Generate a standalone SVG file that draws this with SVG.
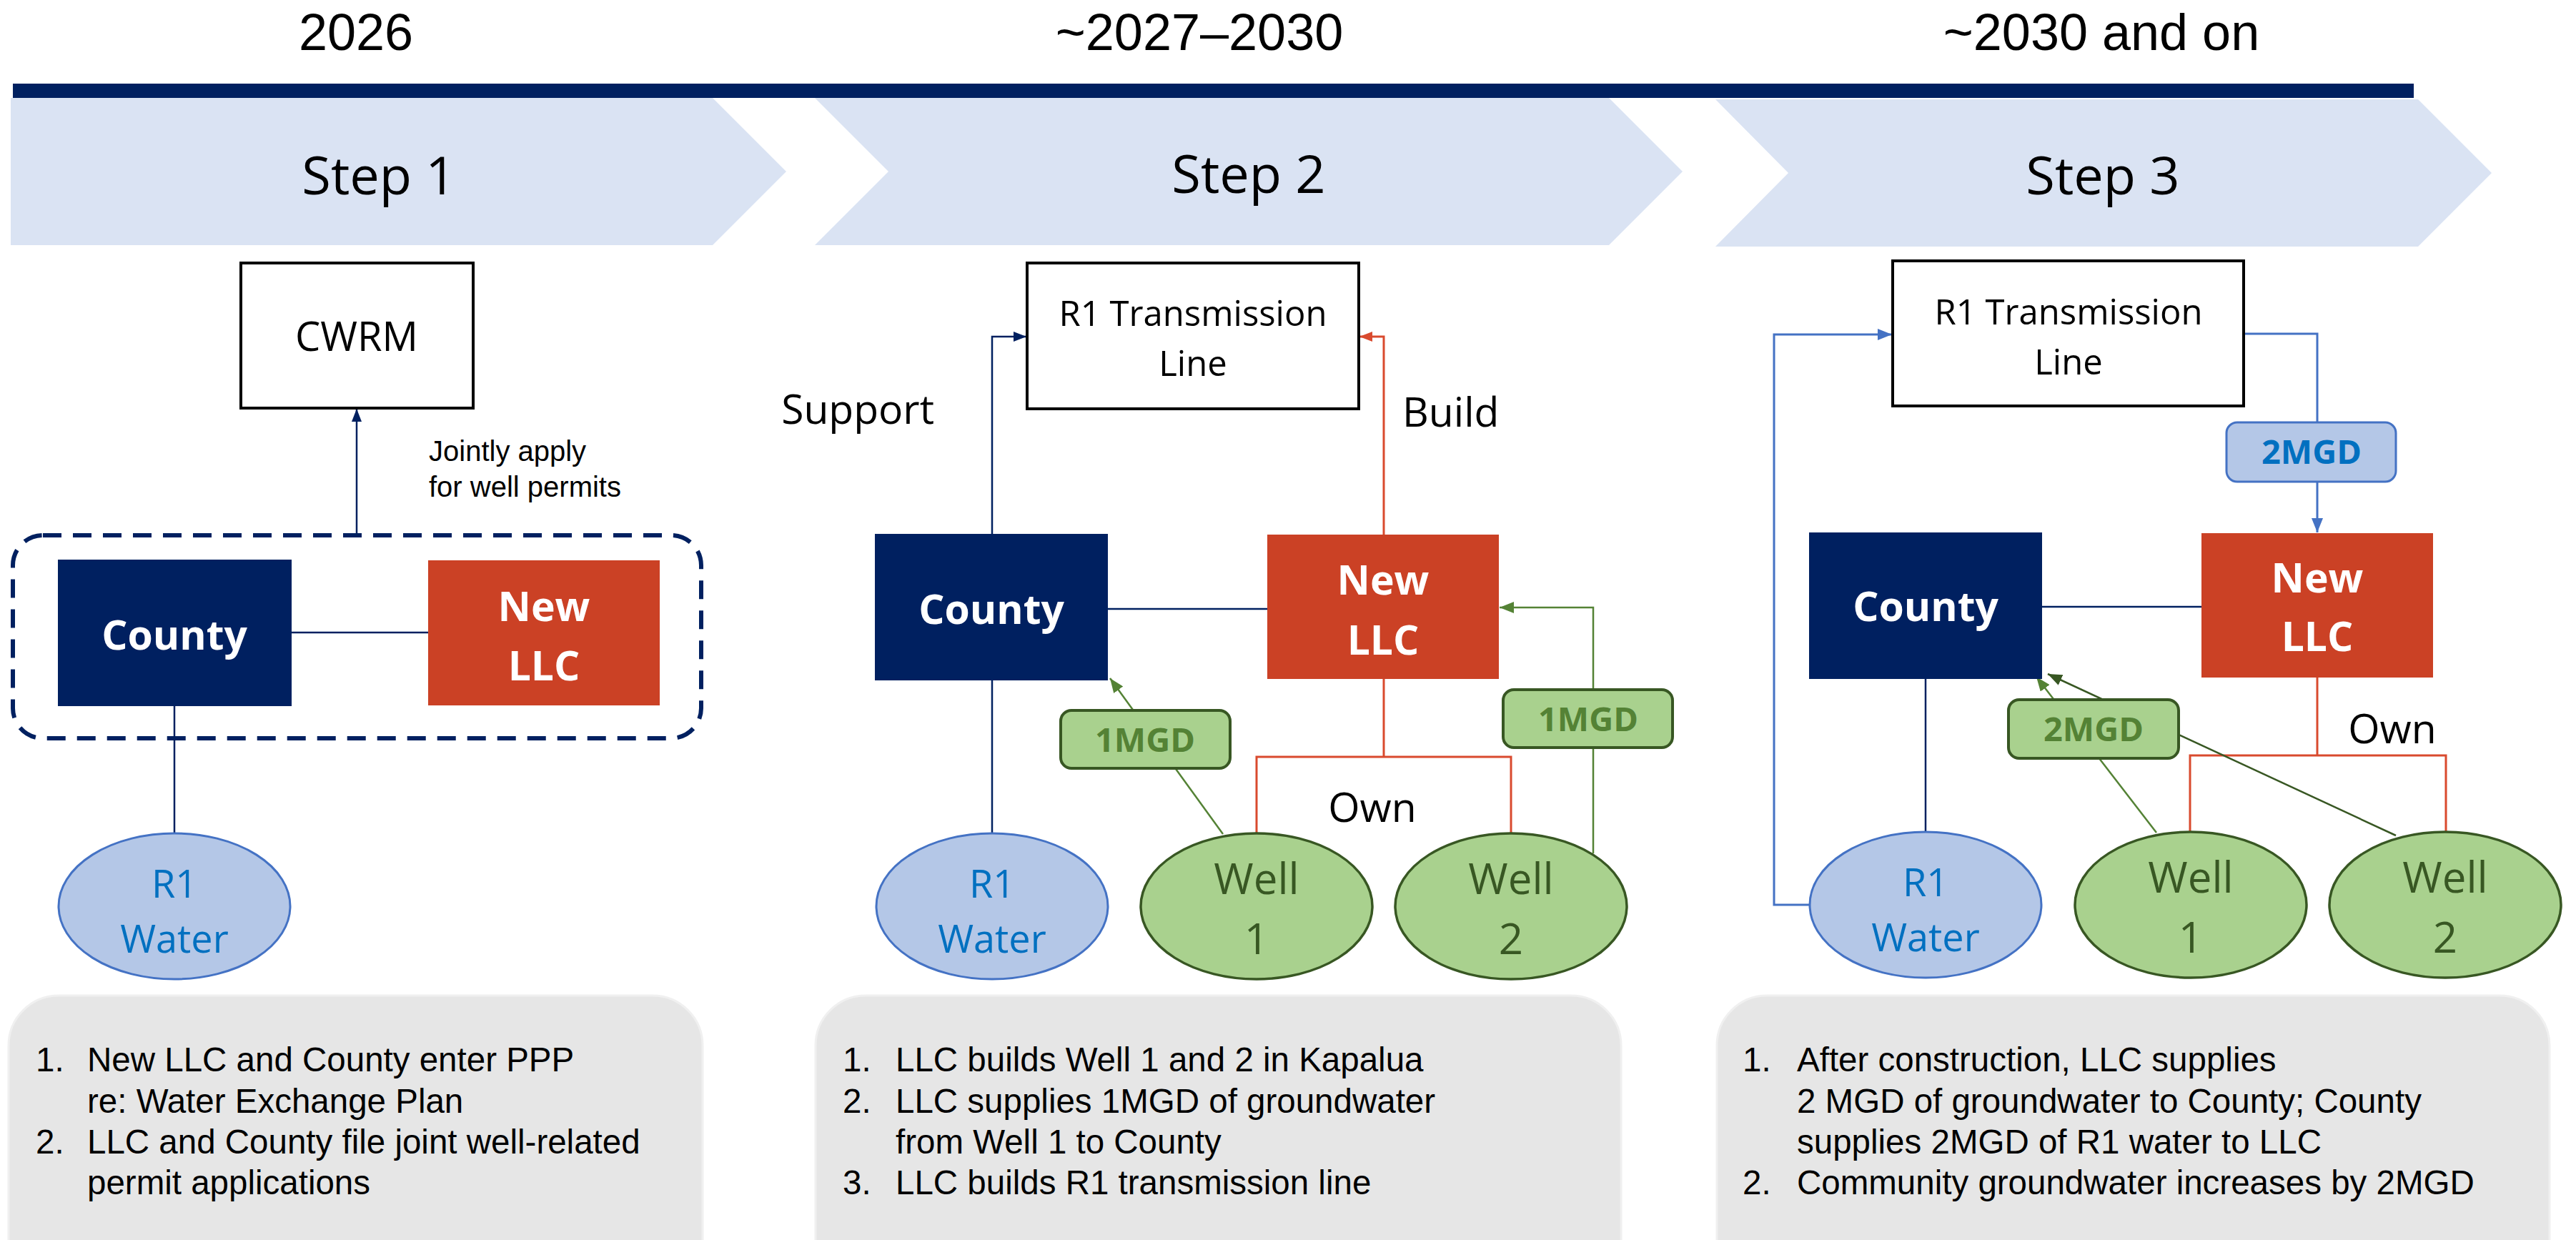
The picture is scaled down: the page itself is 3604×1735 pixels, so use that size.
<svg xmlns="http://www.w3.org/2000/svg" width="3604" height="1735" viewBox="0 0 3604 1735">
<style>
.hdr{font-family:"Liberation Sans",Arial,sans-serif;font-size:72px;fill:#000;text-anchor:middle}
.step{font-family:"Open Sans","Liberation Sans",sans-serif;font-size:74px;fill:#000;text-anchor:middle}
.chev{fill:#DAE3F3}
.box{fill:#fff;stroke:#000;stroke-width:4}
.boxt{font-family:"Open Sans","Liberation Sans",sans-serif;font-size:49px;fill:#000;text-anchor:middle}
.county{fill:#002060}
.llc{fill:#CB4125}
.wt{font-family:"Open Sans","Liberation Sans",sans-serif;font-weight:bold;font-size:57px;fill:#fff;text-anchor:middle}
.r1{fill:#B4C7E7;stroke:#4472C4;stroke-width:3}
.r1t{font-family:"Open Sans","Liberation Sans",sans-serif;font-size:54px;fill:#0070C0;text-anchor:middle}
.well{fill:#A9D18E;stroke:#385723;stroke-width:3.5}
.wellt{font-family:"Open Sans","Liberation Sans",sans-serif;font-size:60px;fill:#385723;text-anchor:middle}
.mgd{fill:#A9D18E;stroke:#385723;stroke-width:4}
.mgdb{fill:#B4C7E7;stroke:#4472C4;stroke-width:3}
.mgdt{font-family:"Open Sans","Liberation Sans",sans-serif;font-weight:bold;font-size:47px;fill:#548235;text-anchor:middle}
.mgdtb{font-family:"Open Sans","Liberation Sans",sans-serif;font-weight:bold;font-size:47px;fill:#0070C0;text-anchor:middle}
.lbl{font-family:"Open Sans","Liberation Sans",sans-serif;font-size:57px;fill:#000}
.small{font-family:"Liberation Sans",Arial,sans-serif;font-size:40px;fill:#000}
.note{fill:#E6E6E6;stroke:#F0F0F0;stroke-width:3}
.nt{font-family:"Liberation Sans",Arial,sans-serif;font-size:47.5px;fill:#000}
.cn{fill:none;stroke:#002060;stroke-width:2.5}
.cr{fill:none;stroke:#D94A2E;stroke-width:3}
.cg{fill:none;stroke:#548235;stroke-width:2.5}
.cdg{fill:none;stroke:#385723;stroke-width:2.5}
.cb{fill:none;stroke:#4472C4;stroke-width:3}
</style>
<defs>
<marker id="aN" markerUnits="userSpaceOnUse" markerWidth="18" markerHeight="14" viewBox="0 0 18 14" refX="18" refY="7" orient="auto"><path d="M0,0 L18,7 L0,14 z" fill="#002060"/></marker>
<marker id="aR" markerUnits="userSpaceOnUse" markerWidth="18" markerHeight="14" viewBox="0 0 18 14" refX="18" refY="7" orient="auto"><path d="M0,0 L18,7 L0,14 z" fill="#D94A2E"/></marker>
<marker id="aG" markerUnits="userSpaceOnUse" markerWidth="20" markerHeight="16" viewBox="0 0 20 16" refX="20" refY="8" orient="auto"><path d="M0,0 L20,8 L0,16 z" fill="#548235"/></marker>
<marker id="aDG" markerUnits="userSpaceOnUse" markerWidth="20" markerHeight="16" viewBox="0 0 20 16" refX="20" refY="8" orient="auto"><path d="M0,0 L20,8 L0,16 z" fill="#385723"/></marker>
<marker id="aB" markerUnits="userSpaceOnUse" markerWidth="20" markerHeight="16" viewBox="0 0 20 16" refX="20" refY="8" orient="auto"><path d="M0,0 L20,8 L0,16 z" fill="#4472C4"/></marker>
</defs>
<rect width="3604" height="1735" fill="#fff"/>

<!-- Timeline header -->
<g id="timeline">
<text class="hdr" x="498" y="70">2026</text>
<text class="hdr" x="1678" y="70">~2027–2030</text>
<text class="hdr" x="2940" y="70">~2030 and on</text>
<rect x="18" y="117" width="3359" height="20" fill="#002060"/>
</g>
<g id="step1-chevron">
<polygon class="chev" points="15,137 997,137 1100,240 997,343 15,343"/>
<text class="step" x="530" y="272">Step 1</text>
</g>
<g id="step2-chevron">
<polygon class="chev" points="1140,137 2251,137 2354,240 2251,343 1140,343 1243,240"/>
<text class="step" x="1747" y="270">Step 2</text>
</g>
<g id="step3-chevron">
<polygon class="chev" points="2400,139 3383,139 3486,242 3383,345 2400,345 2502,242"/>
<text class="step" x="2942" y="272">Step 3</text>
</g>

<!-- Connectors -->
<g id="connectors">
<!-- step 1 -->
<line class="cn" x1="499" y1="749" x2="499" y2="572" marker-end="url(#aN)"/>
<line class="cn" x1="408" y1="885" x2="599" y2="885"/>
<line class="cn" x1="244" y1="988" x2="244" y2="1166"/>
<!-- step 2 -->
<path class="cn" d="M1388,747 V471 H1436" marker-end="url(#aN)"/>
<path class="cr" d="M1936,748 V471 H1902" marker-end="url(#aR)"/>
<line class="cn" x1="1550" y1="852" x2="1773" y2="852"/>
<line class="cn" x1="1388" y1="952" x2="1388" y2="1166"/>
<path class="cr" d="M1936,950 V1059"/>
<path class="cr" d="M1758,1166 V1059 H2114 V1166"/>
<line class="cg" x1="1711" y1="1167" x2="1553" y2="949" marker-end="url(#aG)"/>
<path class="cg" d="M2229,1194 V850 H2098" marker-end="url(#aG)"/>
<!-- step 3 -->
<path class="cb" d="M2532,1266 H2482 V468 H2647" marker-end="url(#aB)"/>
<path class="cb" d="M3139,467 H3242 V745" marker-end="url(#aB)"/>
<line class="cn" x1="2857" y1="849" x2="3080" y2="849"/>
<line class="cn" x1="2694" y1="950" x2="2694" y2="1164"/>
<path class="cr" d="M3242,948 V1057"/>
<path class="cr" d="M3064,1164 V1057 H3422 V1164"/>
<line class="cg" x1="3017" y1="1165" x2="2849" y2="947" marker-end="url(#aG)"/>
<line class="cdg" x1="3352" y1="1169" x2="2865" y2="943" marker-end="url(#aDG)"/>
</g>

<!-- Step 1 nodes -->
<g id="s1-group">
<rect x="18" y="749" width="963" height="284" rx="42" fill="none" stroke="#002060" stroke-width="6" stroke-dasharray="26 16"/>
</g>
<g id="s1-cwrm">
<rect class="box" x="337" y="368" width="325" height="203"/>
<text class="boxt" x="499" y="491" style="font-size:56px">CWRM</text>
</g>
<g id="s1-label">
<text class="small" x="600" y="645">Jointly apply</text>
<text class="small" x="600" y="695">for well permits</text>
</g>
<g id="s1-county">
<rect class="county" x="81" y="783" width="327" height="205"/>
<text class="wt" x="244" y="909">County</text>
</g>
<g id="s1-llc">
<rect class="llc" x="599" y="784" width="324" height="203"/>
<text class="wt" x="761" y="869">New</text>
<text class="wt" x="761" y="952">LLC</text>
</g>
<g id="s1-r1">
<ellipse class="r1" cx="244" cy="1268" rx="162" ry="102"/>
<text class="r1t" x="244" y="1256">R1</text>
<text class="r1t" x="244" y="1333">Water</text>
</g>

<!-- Step 2 nodes -->
<g id="s2-line">
<rect class="box" x="1437" y="368" width="464" height="204"/>
<text class="boxt" x="1669" y="456">R1 Transmission</text>
<text class="boxt" x="1669" y="526">Line</text>
</g>
<g id="s2-labels">
<text class="lbl" x="1307" y="593" text-anchor="end">Support</text>
<text class="lbl" x="1962" y="597">Build</text>
<text class="lbl" x="1920" y="1150" text-anchor="middle">Own</text>
</g>
<g id="s2-county">
<rect class="county" x="1224" y="747" width="326" height="205"/>
<text class="wt" x="1387" y="873">County</text>
</g>
<g id="s2-llc">
<rect class="llc" x="1773" y="748" width="324" height="202"/>
<text class="wt" x="1935" y="832">New</text>
<text class="wt" x="1935" y="916">LLC</text>
</g>
<g id="s2-r1">
<ellipse class="r1" cx="1388" cy="1268" rx="162" ry="102"/>
<text class="r1t" x="1388" y="1256">R1</text>
<text class="r1t" x="1388" y="1333">Water</text>
</g>
<g id="s2-well1">
<ellipse class="well" cx="1758" cy="1268" rx="162" ry="102"/>
<text class="wellt" x="1758" y="1251">Well</text>
<text class="wellt" x="1758" y="1335">1</text>
</g>
<g id="s2-well2">
<ellipse class="well" cx="2114" cy="1268" rx="162" ry="102"/>
<text class="wellt" x="2114" y="1251">Well</text>
<text class="wellt" x="2114" y="1335">2</text>
</g>
<g id="s2-mgd1">
<rect class="mgd" x="1484" y="994" width="237" height="81" rx="15"/>
<text class="mgdt" x="1602" y="1052">1MGD</text>
</g>
<g id="s2-mgd2">
<rect class="mgd" x="2103" y="965" width="237" height="81" rx="15"/>
<text class="mgdt" x="2222" y="1023">1MGD</text>
</g>

<!-- Step 3 nodes -->
<g id="s3-line">
<rect class="box" x="2648" y="365" width="491" height="203"/>
<text class="boxt" x="2894" y="454">R1 Transmission</text>
<text class="boxt" x="2894" y="524">Line</text>
</g>
<g id="s3-mgdb">
<rect class="mgdb" x="3115" y="591" width="237" height="83" rx="15"/>
<text class="mgdtb" x="3234" y="649">2MGD</text>
</g>
<g id="s3-labels">
<text class="lbl" x="3347" y="1040" text-anchor="middle">Own</text>
</g>
<g id="s3-county">
<rect class="county" x="2531" y="745" width="326" height="205"/>
<text class="wt" x="2694" y="869">County</text>
</g>
<g id="s3-llc">
<rect class="llc" x="3080" y="746" width="324" height="202"/>
<text class="wt" x="3242" y="829">New</text>
<text class="wt" x="3242" y="911">LLC</text>
</g>
<g id="s3-r1">
<ellipse class="r1" cx="2694" cy="1266" rx="162" ry="102"/>
<text class="r1t" x="2694" y="1254">R1</text>
<text class="r1t" x="2694" y="1331">Water</text>
</g>
<g id="s3-well1">
<ellipse class="well" cx="3065" cy="1266" rx="162" ry="102"/>
<text class="wellt" x="3065" y="1249">Well</text>
<text class="wellt" x="3065" y="1333">1</text>
</g>
<g id="s3-well2">
<ellipse class="well" cx="3421" cy="1266" rx="162" ry="102"/>
<text class="wellt" x="3421" y="1249">Well</text>
<text class="wellt" x="3421" y="1333">2</text>
</g>
<g id="s3-mgd">
<rect class="mgd" x="2810" y="979" width="238" height="82" rx="15"/>
<text class="mgdt" x="2929" y="1037">2MGD</text>
</g>

<!-- Notes -->
<g id="note1">
<rect class="note" x="12" y="1393" width="971" height="420" rx="70"/>
<text class="nt" x="50" y="1499">1.</text>
<text class="nt" x="122" y="1499">New LLC and County enter PPP</text>
<text class="nt" x="122" y="1557">re: Water Exchange Plan</text>
<text class="nt" x="50" y="1614">2.</text>
<text class="nt" x="122" y="1614">LLC and County file joint well-related</text>
<text class="nt" x="122" y="1671">permit applications</text>
</g>
<g id="note2">
<rect class="note" x="1141" y="1393" width="1127" height="420" rx="70"/>
<text class="nt" x="1179" y="1499">1.</text>
<text class="nt" x="1253" y="1499">LLC builds Well 1 and 2 in Kapalua</text>
<text class="nt" x="1179" y="1557">2.</text>
<text class="nt" x="1253" y="1557">LLC supplies 1MGD of groundwater</text>
<text class="nt" x="1253" y="1614">from Well 1 to County</text>
<text class="nt" x="1179" y="1671">3.</text>
<text class="nt" x="1253" y="1671">LLC builds R1 transmission line</text>
</g>
<g id="note3">
<rect class="note" x="2402" y="1393" width="1165" height="420" rx="70"/>
<text class="nt" x="2438" y="1499">1.</text>
<text class="nt" x="2514" y="1499">After construction, LLC supplies</text>
<text class="nt" x="2514" y="1557">2 MGD of groundwater to County; County</text>
<text class="nt" x="2514" y="1614">supplies 2MGD of R1 water to LLC</text>
<text class="nt" x="2438" y="1671">2.</text>
<text class="nt" x="2514" y="1671">Community groundwater increases by 2MGD</text>
</g>
</svg>
